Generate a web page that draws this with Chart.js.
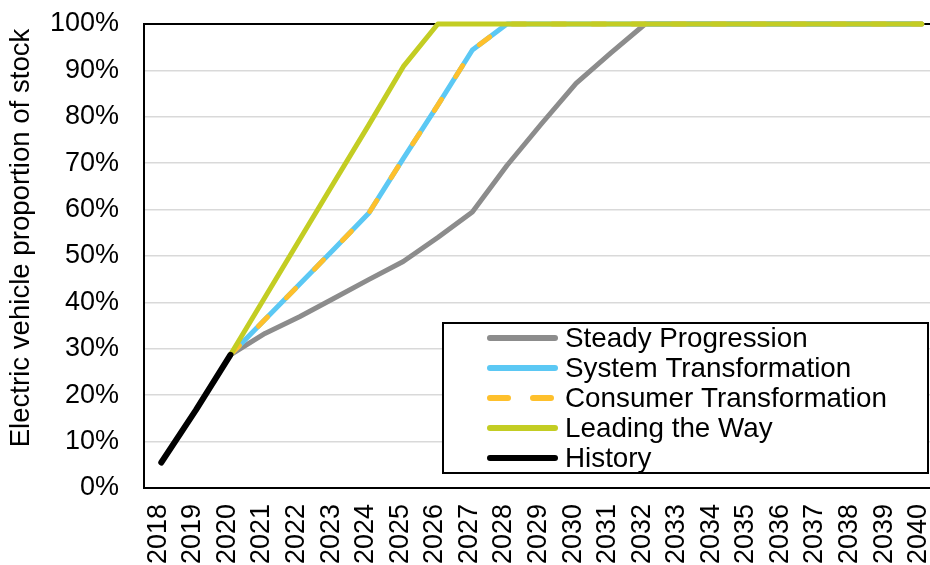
<!DOCTYPE html>
<html>
<head>
<meta charset="utf-8">
<script src="https://cdn.jsdelivr.net/npm/chart.js@4/dist/chart.umd.min.js"></script>
<style>
  html, body { margin: 0; padding: 0; background: #fff; overflow: hidden; }
  #wrap { width: 930px; height: 565px; overflow: hidden; }
</style>
</head>
<body>
<div id="wrap"><canvas id="c" width="940" height="565"></canvas></div>
<script>
// Years on the horizontal axis
const years = ['2018','2019','2020','2021','2022','2023','2024','2025','2026','2027','2028',
  '2029','2030','2031','2032','2033','2034','2035','2036','2037','2038','2039','2040'];

// Share of the vehicle stock that is electric (fraction of 1)
const history = [0.055, 0.168, 0.287];
const steadyProgression = [null, null, 0.287, 0.333, 0.369, 0.409, 0.449, 0.488, 0.540, 0.595,
  0.695, 0.785, 0.872, 0.937, 1, 1, 1, 1, 1, 1, 1, 1, 1];
const systemTransformation = [null, null, 0.287, 0.363, 0.439, 0.515, 0.592, 0.710, 0.825, 0.944,
  1, 1, 1, 1, 1, 1, 1, 1, 1, 1, 1, 1, 1];
const consumerTransformation = [null, null, 0.287, 0.363, 0.439, 0.515, 0.592, 0.710, 0.825, 0.944,
  1, 1, 1, 1, 1, 1, 1, 1, 1, 1, 1, 1, 1];
const leadingTheWay = [null, null, 0.287, 0.411, 0.535, 0.659, 0.782, 0.908, 1, 1,
  1, 1, 1, 1, 1, 1, 1, 1, 1, 1, 1, 1, 1];

const yTicks = [0, 0.1, 0.2, 0.3, 0.4, 0.5, 0.6, 0.7, 0.8, 0.9, 1];
const yTitle = 'Electric vehicle proportion of stock';

const FONT = "'Liberation Sans', Arial, sans-serif";
const FONT_SIZE = 27;

Chart.defaults.font.family = FONT;
Chart.defaults.font.size = FONT_SIZE;
Chart.defaults.color = '#000';

const series = [
  { label: 'Steady Progression', data: steadyProgression, color: '#8c8c8c', width: 5, dash: [], order: 5 },
  { label: 'System Transformation', data: systemTransformation, color: '#5bc8f4', width: 5, dash: [], order: 4 },
  { label: 'Consumer Transformation', data: consumerTransformation, color: '#fec02c', width: 5, dash: [13, 27], order: 3 },
  { label: 'Leading the Way', data: leadingTheWay, color: '#c3cd23', width: 5, dash: [], order: 2 },
  { label: 'History', data: history, color: '#000000', width: 6, dash: [], order: 1 }
];

// Black frame line along the top of the plot area
const topBorder = {
  id: 'topBorder',
  beforeDatasetsDraw(chart) {
    const { ctx, chartArea } = chart;
    ctx.save();
    ctx.strokeStyle = '#000';
    ctx.lineWidth = 2;
    ctx.beginPath();
    ctx.moveTo(chartArea.left - 1, chartArea.top);
    ctx.lineTo(chart.width, chartArea.top);
    ctx.stroke();
    ctx.restore();
  }
};

// Vertical axis title
const axisTitle = {
  id: 'axisTitle',
  afterDraw(chart) {
    const { ctx } = chart;
    ctx.save();
    ctx.translate(21, 238);
    ctx.rotate(-Math.PI / 2);
    ctx.font = '27.6px ' + FONT;
    ctx.fillStyle = '#000';
    ctx.textAlign = 'center';
    ctx.textBaseline = 'middle';
    ctx.fillText(yTitle, 0, 0);
    ctx.restore();
  }
};

// Boxed legend inside the plot area
const boxLegend = {
  id: 'boxLegend',
  afterDraw(chart) {
    const { ctx } = chart;
    const x0 = 443, y0 = 323, x1 = 928, y1 = 473;
    ctx.save();
    ctx.fillStyle = '#fff';
    ctx.fillRect(x0, y0, x1 - x0, y1 - y0);
    ctx.strokeStyle = '#000';
    ctx.lineWidth = 2;
    ctx.strokeRect(x0, y0, x1 - x0, y1 - y0);
    ctx.font = '27.8px ' + FONT;
    ctx.textBaseline = 'middle';
    ctx.textAlign = 'left';
    chart.data.datasets.forEach((ds, i) => {
      const y = 338 + i * 30;
      ctx.strokeStyle = ds.borderColor;
      ctx.lineWidth = 6;
      ctx.lineCap = 'round';
      ctx.setLineDash(ds.borderDash && ds.borderDash.length ? [18, 25] : []);
      ctx.beginPath();
      ctx.moveTo(490, y);
      ctx.lineTo(555, y);
      ctx.stroke();
      ctx.setLineDash([]);
      ctx.fillStyle = '#000';
      ctx.fillText(ds.label, 565, y + 1);
    });
    ctx.restore();
  }
};

new Chart(document.getElementById('c'), {
  type: 'line',
  data: {
    labels: years,
    datasets: series.map(s => ({
      label: s.label,
      data: s.data,
      borderColor: s.color,
      backgroundColor: s.color,
      borderWidth: s.width,
      borderDash: s.dash,
      borderCapStyle: 'round',
      borderJoinStyle: 'round',
      pointRadius: 0,
      pointHoverRadius: 0,
      tension: 0,
      fill: false,
      clip: false,
      order: s.order
    }))
  },
  options: {
    responsive: false,
    animation: false,
    devicePixelRatio: 1,
    layout: { padding: { top: 24, right: 1, left: 0, bottom: 0 } },
    plugins: {
      legend: { display: false },
      tooltip: { enabled: false }
    },
    scales: {
      x: {
        type: 'category',
        offset: true,
        grid: { display: false, drawTicks: false },
        border: { display: true, color: '#000', width: 2 },
        ticks: {
          autoSkip: false,
          maxRotation: 90,
          minRotation: 90,
          padding: 16,
          labelOffset: -3,
          color: '#000'
        },
        afterFit(scale) {
          scale.height = 77;
          scale.paddingLeft = 0;
          scale.paddingRight = 0;
        }
      },
      y: {
        min: 0,
        max: 1,
        afterBuildTicks(scale) { scale.ticks = yTicks.map(v => ({ value: v })); },
        grid: {
          color: ctx => (ctx.tick && (ctx.tick.value === 0 || ctx.tick.value === 1)) ? 'rgba(0,0,0,0)' : '#d9d9d9',
          lineWidth: 1.5,
          drawTicks: false
        },
        border: { display: true, color: '#000', width: 2 },
        ticks: {
          padding: 25,
          color: '#000',
          callback: v => Math.round(v * 100) + '%'
        },
        afterFit(scale) {
          scale.width = 144;
          scale.paddingTop = 0;
          scale.paddingBottom = 0;
        }
      }
    }
  },
  plugins: [topBorder, axisTitle, boxLegend]
});
</script>
</body>
</html>
